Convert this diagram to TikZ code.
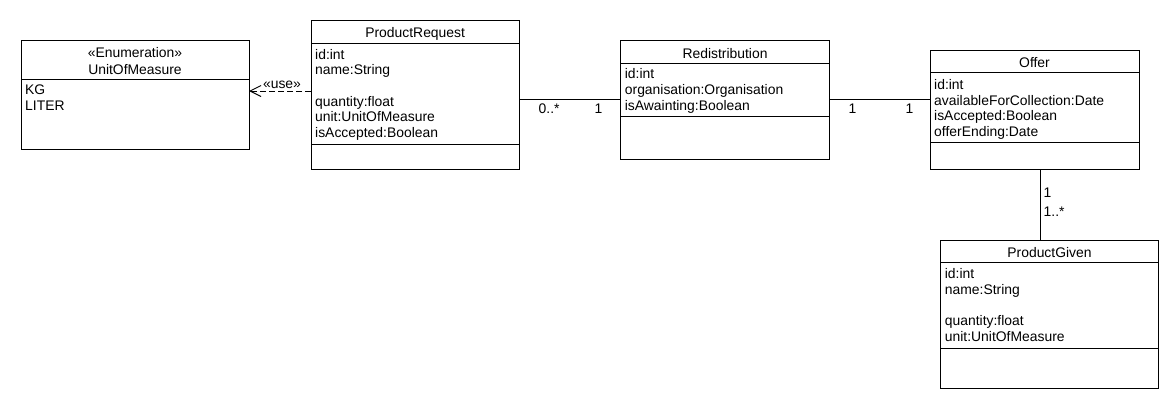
\documentclass[tikz,border=0pt]{standalone}
\usepackage{fontspec}
\setmainfont{Liberation Sans}
\usetikzlibrary{arrows.meta}
\tikzset{
  classbox/.style={draw, line width=1pt, rectangle, inner sep=0pt, outer sep=0pt},
  sepline/.style={line width=1pt},
  umltitle/.style={anchor=base, inner sep=0pt, font=\fontsize{13.9}{15.7}\selectfont},
  attr/.style={anchor=base west, inner sep=0pt, font=\fontsize{13.9}{15.7}\selectfont},
  mult/.style={anchor=base west, inner sep=0pt, font=\fontsize{13.9}{15.7}\selectfont},
  assoc/.style={line width=1pt},
  dep/.style={line width=1pt, dash pattern=on 6pt off 3pt, -{Straight Barb[length=11pt,width=11pt,line width=1pt]}},
}
\begin{document}
\begin{tikzpicture}[x=1pt,y=-1pt]
\useasboundingbox (0,0) rectangle (1170,410);
\fill[white] (0,0) rectangle (1170,410);

% UnitOfMeasure
\node[classbox, minimum width=228pt, minimum height=109pt] (uom) at (135,94.5) {};
\draw[sepline] (21,79.3) -- (249,79.3);
\node[umltitle] (uomst) at (135,57.3) {«Enumeration»};
\node[umltitle] (uomt) at (135,74) {UnitOfMeasure};
\node[attr] (uoma1) at (25,94.3) {KG};
\node[attr] (uoma2) at (25,110) {LITER};

% ProductRequest
\node[classbox, minimum width=208.3pt, minimum height=148.6pt] (pr) at (415.15,95) {};
\draw[sepline] (311,43.3) -- (519.3,43.3);
\draw[sepline] (311,144.3) -- (519.3,144.3);
\node[umltitle] (prt) at (415.15,37.7) {ProductRequest};
\node[attr] (pra1) at (315,59) {id:int};
\node[attr] (pra2) at (315,74.6) {name:String};
\node[attr] (pra3) at (315,106) {quantity:float};
\node[attr] (pra4) at (315,121.6) {unit:UnitOfMeasure};
\node[attr] (pra5) at (315,137.3) {isAccepted:Boolean};

% Redistribution
\node[classbox, minimum width=208.6pt, minimum height=118.3pt] (red) at (725,99.85) {};
\draw[sepline] (620.7,63.3) -- (829.3,63.3);
\draw[sepline] (620.7,116.7) -- (829.3,116.7);
\node[umltitle] (redt) at (725,58) {Redistribution};
\node[attr] (reda1) at (624.7,78.7) {id:int};
\node[attr] (reda2) at (624.7,94.3) {organisation:Organisation};
\node[attr] (reda3) at (624.7,110) {isAwainting:Boolean};

% Offer
\node[classbox, minimum width=209pt, minimum height=118.6pt] (offer) at (1034.5,110) {};
\draw[sepline] (930,72.7) -- (1139,72.7);
\draw[sepline] (930,142.3) -- (1139,142.3);
\node[umltitle] (offert) at (1034.5,67.7) {Offer};
\node[attr] (offera1) at (934,89.3) {id:int};
\node[attr] (offera2) at (934,105) {availableForCollection:Date};
\node[attr] (offera3) at (934,120.7) {isAccepted:Boolean};
\node[attr] (offera4) at (934,136.3) {offerEnding:Date};

% ProductGiven
\node[classbox, minimum width=217.6pt, minimum height=148.3pt] (pg) at (1049.5,314.15) {};
\draw[sepline] (940.7,262.7) -- (1158.3,262.7);
\draw[sepline] (940.7,348.3) -- (1158.3,348.3);
\node[umltitle] (pgt) at (1049.5,257.5) {ProductGiven};
\node[attr] (pga1) at (944.7,278.7) {id:int};
\node[attr] (pga2) at (944.7,294.3) {name:String};
\node[attr] (pga3) at (944.7,325.6) {quantity:float};
\node[attr] (pga4) at (944.7,341.2) {unit:UnitOfMeasure};

% dependency
\coordinate (depy) at (0,91);
\draw[dep] (pr.west |- depy) -- (uom.east |- depy);
\node[anchor=base, inner sep=0pt, font=\fontsize{13.9}{15.7}\selectfont] (use) at (282,88) {«use»};

% associations
\draw[assoc] (pr.east |- red.west) -- (red.west);
\node[mult] (m1) at (538.5,113.3) {0..*};
\node[mult] (m2) at (594.5,113.3) {1};

\draw[assoc] (red.east) -- (red.east -| offer.west);
\node[mult] (m3) at (848.5,113.3) {1};
\node[mult] (m4) at (905.5,113.3) {1};

\coordinate (vx) at (1040.5,0);
\draw[assoc] (offer.south -| vx) -- (pg.north -| vx);
\node[mult] (m5) at (1043.5,197.3) {1};
\node[mult] (m6) at (1043.5,216.7) {1..*};
\end{tikzpicture}
\end{document}
